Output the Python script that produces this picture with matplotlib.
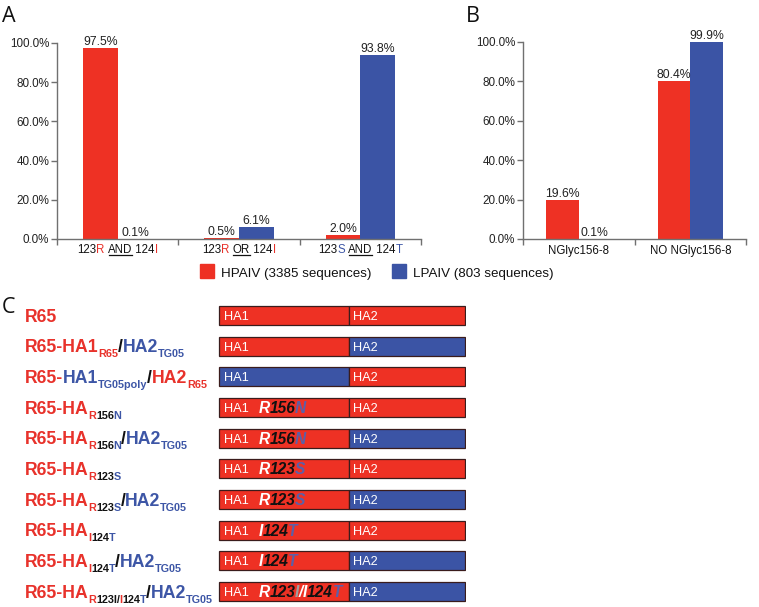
import matplotlib
matplotlib.use('Agg')
import matplotlib.pyplot as plt
from matplotlib.transforms import IdentityTransform
from matplotlib.lines import Line2D
from matplotlib.patches import Rectangle

plt.rcParams['font.family'] = ['Liberation Sans', 'DejaVu Sans']

# ---------------- data ----------------
series_names = ['HPAIV (3385 sequences)', 'LPAIV (803 sequences)']
y_ticks = [0, 20, 40, 60, 80, 100]

a_labels = [
    [('123', 'k', 0), ('R', 'r', 0), (' ', 'k', 0), ('AND', 'k', 1), (' 124', 'k', 0), ('I', 'r', 0)],
    [('123', 'k', 0), ('R', 'r', 0), (' ', 'k', 0), ('OR', 'k', 1), (' 124', 'k', 0), ('I', 'r', 0)],
    [('123', 'k', 0), ('S', 'b', 0), (' ', 'k', 0), ('AND', 'k', 1), (' 124', 'k', 0), ('T', 'b', 0)],
]
a_hpaiv = [97.5, 0.5, 2.0]
a_lpaiv = [0.1, 6.1, 93.8]

b_labels = ['NGlyc156-8', 'NO NGlyc156-8']
b_hpaiv = [19.6, 80.4]
b_lpaiv = [0.1, 99.9]

slash_tg05 = [('/', 'k', 0), ('HA2', 'b', 0), ('TG05', 'b', 1)]
construct_labels = [
    [('R65', 'r', 0)],
    [('R65-HA1', 'r', 0), ('R65', 'r', 1)] + slash_tg05,
    [('R65-', 'r', 0), ('HA1', 'b', 0), ('TG05poly', 'b', 1), ('/', 'k', 0), ('HA2', 'r', 0), ('R65', 'r', 1)],
    [('R65-HA', 'r', 0), ('R', 'r', 1), ('156', 'k', 1), ('N', 'b', 1)],
    [('R65-HA', 'r', 0), ('R', 'r', 1), ('156', 'k', 1), ('N', 'b', 1)] + slash_tg05,
    [('R65-HA', 'r', 0), ('R', 'r', 1), ('123', 'k', 1), ('S', 'b', 1)],
    [('R65-HA', 'r', 0), ('R', 'r', 1), ('123', 'k', 1), ('S', 'b', 1)] + slash_tg05,
    [('R65-HA', 'r', 0), ('I', 'r', 1), ('124', 'k', 1), ('T', 'b', 1)],
    [('R65-HA', 'r', 0), ('I', 'r', 1), ('124', 'k', 1), ('T', 'b', 1)] + slash_tg05,
    [('R65-HA', 'r', 0), ('R', 'r', 1), ('123I/', 'k', 1), ('I', 'r', 1), ('124', 'k', 1), ('T', 'b', 1)] + slash_tg05,
]
ha1_colors = ['r', 'r', 'b', 'r', 'r', 'r', 'r', 'r', 'r', 'r']
ha2_colors = ['r', 'b', 'r', 'r', 'b', 'r', 'b', 'r', 'b', 'b']
ha1_fraction = 0.528
mutations = [
    [], [], [],
    [('R', 'w'), ('156', 'k'), ('N', 'm')],
    [('R', 'w'), ('156', 'k'), ('N', 'm')],
    [('R', 'w'), ('123', 'k'), ('S', 'm')],
    [('R', 'w'), ('123', 'k'), ('S', 'm')],
    [('I', 'w'), ('124', 'k'), ('T', 'm')],
    [('I', 'w'), ('124', 'k'), ('T', 'm')],
    [('R', 'w'), ('123', 'k'), ('I', 'g'), ('/', 'w'), ('I', 'w'), ('124', 'k'), ('T', 'm')],
]

# ---------------- style ----------------
RED = '#EE3124'
BLUE = '#3B54A5'
AXGREY = '#707070'
COL = {'r': '#E8322B', 'b': '#3D56A6', 'k': '#111111', 'w': '#FFFFFF',
       'm': '#5A60A8', 'g': '#A0A0A0'}
BARCOL = {'r': RED, 'b': BLUE}
FAM = ['Liberation Sans', 'DejaVu Sans']

W, H, DPI = 759, 607, 100
fig = plt.figure(figsize=(W / DPI, H / DPI), dpi=DPI)
fig.patch.set_facecolor('white')
renderer = fig.canvas.get_renderer()


def px_axes(x0, y0, x1, y1):
    return fig.add_axes([x0 / W, 1 - y1 / H, (x1 - x0) / W, (y1 - y0) / H])


def ink(s, **kw):
    t = fig.text(0, 0, s, transform=IdentityTransform(), **kw)
    w = t.get_window_extent(renderer).width
    t.remove()
    return w


def advance(s, **kw):
    # advance width = ink('|s|') - ink('||')
    return ink('|' + s + '|', **kw) - ink('||', **kw)


def draw_rich(x, y, parts, align='left', tighten=0.0):
    """parts: list of dict(s, color, size, weight, style, dy, underline); x px, y = baseline px from top."""
    kws = []
    widths = []
    for p in parts:
        kw = dict(fontsize=p['size'], fontweight=p.get('weight', 'normal'),
                  fontstyle=p.get('style', 'normal'), family=p.get('family', FAM))
        kws.append(kw)
        widths.append(advance(p['s'], **kw) - tighten)
    total = sum(widths)
    cx = x - total / 2 if align == 'center' else x
    for p, w, kw in zip(parts, widths, kws):
        X = cx
        Y = H - (y + p.get('dy', 0))
        fig.text(X, Y, p['s'], transform=IdentityTransform(), ha='left', va='baseline',
                 color=p['color'], **kw)
        if p.get('underline'):
            fig.add_artist(Line2D([X + 0.5, X + w - 0.5], [Y - 1.6, Y - 1.6], transform=IdentityTransform(),
                                  color=p['color'], lw=0.9))
        cx += w


def style_bar_axes(ax, ncat):
    for s in ['top', 'right']:
        ax.spines[s].set_visible(False)
    for s in ['left', 'bottom']:
        ax.spines[s].set_color(AXGREY)
        ax.spines[s].set_linewidth(1.0)
    ax.set_xlim(-0.5, ncat - 0.5)
    ax.set_ylim(0, 100)
    ax.set_yticks(y_ticks)
    ax.set_yticklabels([f'{v:.1f}%' for v in y_ticks], fontsize=8.4, color='#222222')
    ax.set_xticks([i - 0.5 for i in range(ncat + 1)])
    ax.set_xticklabels([])
    ax.tick_params(axis='both', direction='out', length=4, color=AXGREY, width=1.0, pad=1.5)
    ax.set_facecolor('none')


def bar_values(ax, xs, vals):
    for x, v in zip(xs, vals):
        ax.annotate(f'{v:.1f}%', (x, v), xytext=(0, 0), textcoords='offset points',
                    ha='center', va='bottom', fontsize=8.8, color='#222222')


# ---------------- panel A ----------------
axA = px_axes(57, 43, 421, 239)
bw = 0.285
xa = list(range(len(a_hpaiv)))
axA.bar([x - bw / 2 for x in xa], a_hpaiv, width=bw, color=RED)
axA.bar([x + bw / 2 for x in xa], a_lpaiv, width=bw, color=BLUE)
style_bar_axes(axA, len(a_hpaiv))
bar_values(axA, [x - bw / 2 for x in xa], a_hpaiv)
bar_values(axA, [x + bw / 2 for x in xa], a_lpaiv)

# ---------------- panel B ----------------
axB = px_axes(523, 42, 746, 239)
bwb = 0.29
xb = list(range(len(b_hpaiv)))
axB.bar([x - bwb / 2 for x in xb], b_hpaiv, width=bwb, color=RED)
axB.bar([x + bwb / 2 for x in xb], b_lpaiv, width=bwb, color=BLUE)
style_bar_axes(axB, len(b_hpaiv))
bar_values(axB, [x - bwb / 2 for x in xb], b_hpaiv)
bar_values(axB, [x + bwb / 2 for x in xb], b_lpaiv)

fig.canvas.draw()

# x labels (rich) for A and B
for i, parts in enumerate(a_labels):
    xd = axA.transData.transform((i, 0))[0]
    draw_rich(xd, 253, [dict(s=s, color=COL[c], size=8.3, underline=u) for s, c, u in parts], align='center')
for i, lab in enumerate(b_labels):
    xd = axB.transData.transform((i, 0))[0]
    draw_rich(xd, 254, [dict(s=lab, color='#111111', size=8.3)], align='center')

# legend
leg_items = [(200, series_names[0], RED), (392, series_names[1], BLUE)]
for x0, lab, col in leg_items:
    fig.add_artist(Rectangle((x0, H - 278), 14, 14, transform=IdentityTransform(), color=col))
    draw_rich(x0 + 21, 276.5, [dict(s=lab, color='#111111', size=9.6)])

# panel letters
for letter, (lx, ly) in zip('ABC', [(1.5, 22), (466, 22), (1.5, 313)]):
    fig.text(lx, H - ly, letter, transform=IdentityTransform(), ha='left', va='baseline',
             fontsize=15.5, family=['Open Sans', 'DejaVu Sans'], color='#111111')

# ---------------- panel C ----------------
nrow = len(construct_labels)
axC = px_axes(218, 300.2, 466, 606.8)
rows = list(range(nrow))
axC.barh(rows, [ha1_fraction] * nrow, left=0, height=0.62,
         color=[BARCOL[c] for c in ha1_colors], edgecolor='#3a1c1c', linewidth=0.9)
axC.barh(rows, [1 - ha1_fraction] * nrow, left=ha1_fraction, height=0.62,
         color=[BARCOL[c] for c in ha2_colors], edgecolor='#3a1c1c', linewidth=0.9)
axC.set_xlim(-0.004, 1.004)
axC.set_ylim(nrow - 0.5, -0.5)
axC.axis('off')
fig.canvas.draw()

for i in rows:
    yc = H - axC.transData.transform((0, i))[1]
    x_ha1 = axC.transData.transform((0.02, i))[0]
    x_ha2 = axC.transData.transform((ha1_fraction + 0.016, i))[0]
    x_mut = axC.transData.transform((0.161, i))[0]
    draw_rich(x_ha1, yc + 4.6, [dict(s='HA1', color='white', size=9.2)])
    draw_rich(x_ha2, yc + 4.6, [dict(s='HA2', color='white', size=9.2)])
    if mutations[i]:
        draw_rich(x_mut, yc + 5.6, [dict(s=s, color=COL[c], size=11.2, weight='bold', style='italic')
                                    for s, c in mutations[i]], tighten=0.3)
    parts = []
    for s, c, sub in construct_labels[i]:
        if sub:
            parts.append(dict(s=s, color=COL[c], size=7.8, weight='bold', dy=5.0))
        else:
            parts.append(dict(s=s, color=COL[c], size=12.7, weight='bold'))
    draw_rich(25, yc + 6.2, parts, tighten=0.3)

fig.savefig('out.png', dpi=DPI, facecolor='white')
